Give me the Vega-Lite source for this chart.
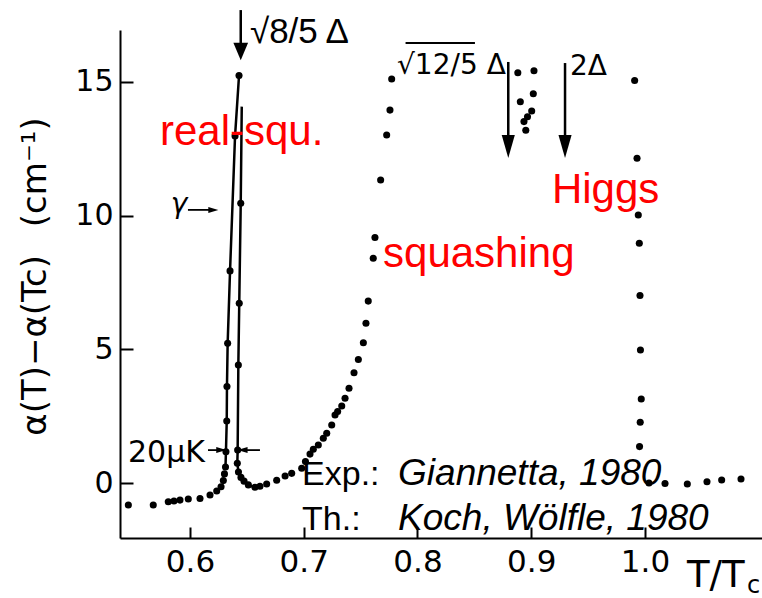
{
  "$schema": "https://vega.github.io/schema/vega-lite/v6.json",
  "width": 642,
  "height": 508,
  "autosize": {"type": "none"},
  "padding": {"left": 120, "top": 30, "right": 0, "bottom": 60},
  "background": "white",
  "config": {"view": {"stroke": null}},
  "datasets": {
    "dots": [
      {"T": 0.5458, "v": -0.82}, {"T": 0.5677, "v": -0.82}, {"T": 0.5809, "v": -0.70}, {"T": 0.5859, "v": -0.67},
      {"T": 0.5912, "v": -0.64}, {"T": 0.5985, "v": -0.60}, {"T": 0.6088, "v": -0.58}, {"T": 0.6176, "v": -0.45},
      {"T": 0.6235, "v": -0.30}, {"T": 0.6273, "v": -0.14}, {"T": 0.6293, "v": 0.09}, {"T": 0.6303, "v": 0.34},
      {"T": 0.6312, "v": 0.60}, {"T": 0.6316, "v": 1.17}, {"T": 0.6323, "v": 2.32}, {"T": 0.6325, "v": 3.61},
      {"T": 0.6331, "v": 5.22}, {"T": 0.6352, "v": 7.93}, {"T": 0.6396, "v": 12.97}, {"T": 0.6431, "v": 15.23},
      {"T": 0.6446, "v": 10.46}, {"T": 0.6433, "v": 6.72}, {"T": 0.6425, "v": 4.41}, {"T": 0.6419, "v": 1.23},
      {"T": 0.6416, "v": 0.74}, {"T": 0.6426, "v": 0.41}, {"T": 0.6448, "v": 0.21}, {"T": 0.6475, "v": 0.07},
      {"T": 0.6513, "v": -0.07}, {"T": 0.6571, "v": -0.16}, {"T": 0.6615, "v": -0.12}, {"T": 0.6674, "v": -0.04},
      {"T": 0.6762, "v": 0.10}, {"T": 0.6836, "v": 0.26}, {"T": 0.6894, "v": 0.36}, {"T": 0.6982, "v": 0.55},
      {"T": 0.7015, "v": 0.80}, {"T": 0.7055, "v": 1.08}, {"T": 0.7084, "v": 1.26}, {"T": 0.7128, "v": 1.42},
      {"T": 0.7172, "v": 1.67}, {"T": 0.7202, "v": 1.86}, {"T": 0.7246, "v": 2.17}, {"T": 0.7275, "v": 2.54},
      {"T": 0.7298, "v": 2.67}, {"T": 0.7334, "v": 2.88}, {"T": 0.7363, "v": 3.17}, {"T": 0.7398, "v": 3.54},
      {"T": 0.7442, "v": 4.12}, {"T": 0.7480, "v": 4.62}, {"T": 0.7524, "v": 5.24}, {"T": 0.7547, "v": 5.97},
      {"T": 0.7567, "v": 6.80}, {"T": 0.7611, "v": 8.40}, {"T": 0.7626, "v": 9.18}, {"T": 0.7676, "v": 11.33},
      {"T": 0.7729, "v": 13.01}, {"T": 0.7758, "v": 13.94}, {"T": 0.7773, "v": 15.10},
      {"T": 0.8882, "v": 15.34}, {"T": 0.9024, "v": 15.41}, {"T": 0.8904, "v": 14.25}, {"T": 0.9018, "v": 14.55},
      {"T": 0.9004, "v": 13.91}, {"T": 0.8967, "v": 13.69}, {"T": 0.8936, "v": 13.51}, {"T": 0.8952, "v": 13.19},
      {"T": 0.9909, "v": 15.05}, {"T": 0.9930, "v": 12.14}, {"T": 0.9941, "v": 10.02}, {"T": 0.9950, "v": 8.96},
      {"T": 0.9956, "v": 7.01}, {"T": 0.9960, "v": 4.97}, {"T": 0.9967, "v": 3.14}, {"T": 0.9958, "v": 2.27},
      {"T": 0.9952, "v": 1.36}, {"T": 1.0035, "v": 0.00}, {"T": 1.0176, "v": -0.02}, {"T": 1.0372, "v": -0.04},
      {"T": 1.0545, "v": 0.05}, {"T": 1.0674, "v": 0.11}, {"T": 1.0844, "v": 0.15}
    ],
    "lines": [
      {"b": "L", "o": 1, "T": 0.6312, "v": 0.60}, {"b": "L", "o": 2, "T": 0.6316, "v": 1.17},
      {"b": "L", "o": 3, "T": 0.6323, "v": 2.32}, {"b": "L", "o": 4, "T": 0.6325, "v": 3.61},
      {"b": "L", "o": 5, "T": 0.6331, "v": 5.22}, {"b": "L", "o": 6, "T": 0.6352, "v": 7.93},
      {"b": "L", "o": 7, "T": 0.6396, "v": 12.97}, {"b": "L", "o": 8, "T": 0.6431, "v": 15.23},
      {"b": "R", "o": 1, "T": 0.6455, "v": 14.07}, {"b": "R", "o": 2, "T": 0.6446, "v": 10.46},
      {"b": "R", "o": 3, "T": 0.6433, "v": 6.72}, {"b": "R", "o": 4, "T": 0.6425, "v": 4.41},
      {"b": "R", "o": 5, "T": 0.6419, "v": 1.23}, {"b": "R", "o": 6, "T": 0.6416, "v": 0.74},
      {"b": "R", "o": 7, "T": 0.6426, "v": 0.41}, {"b": "R", "o": 8, "T": 0.6448, "v": 0.21},
      {"b": "R", "o": 9, "T": 0.6475, "v": 0.07}, {"b": "R", "o": 10, "T": 0.6513, "v": -0.07},
      {"b": "R", "o": 11, "T": 0.6571, "v": -0.16}
    ],
    "vshafts": [
      {"T": 0.6446, "v": 17.68, "v2": 16.3},
      {"T": 0.8798, "v": 15.74, "v2": 12.8},
      {"T": 0.9297, "v": 15.70, "v2": 12.8}
    ],
    "bigheads": [
      {"T": 0.8798, "v": 12.58},
      {"T": 0.9297, "v": 12.58}
    ],
    "smallhead": [
      {"T": 0.6446, "v": 16.13}
    ],
    "hshafts": [
      {"T": 0.6158, "T2": 0.6316, "v": 1.23},
      {"T": 0.6413, "T2": 0.6615, "v": 1.23},
      {"T": 0.5982, "T2": 0.6200, "v": 10.21}
    ],
    "rheads": [
      {"T": 0.6275, "v": 1.23},
      {"T": 0.6205, "v": 10.21}
    ],
    "lheads": [
      {"T": 0.6462, "v": 1.23}
    ],
    "overline": [
      {"T": 0.7895, "T2": 0.8505, "v": 16.45}
    ],
    "red": [
      {"t": "real-squ.", "T": 0.5736, "v": 12.64},
      {"t": "squashing", "T": 0.7697, "v": 8.07},
      {"t": "Higgs", "T": 0.9182, "v": 10.47}
    ],
    "plain": [
      {"t": "Exp.:", "T": 0.6985, "v": -0.07},
      {"t": "Th.:", "T": 0.6985, "v": -1.76}
    ],
    "ital": [
      {"t": "Giannetta, 1980", "T": 0.7829, "v": -0.07},
      {"t": "Koch, Wölfle, 1980", "T": 0.7829, "v": -1.76}
    ],
    "sqrt85": [
      {"t": "√8/5 Δ", "T": 0.6527, "v": 16.45}
    ],
    "scan": [
      {"t": "√12/5 Δ", "T": 0.7820, "v": 15.29},
      {"t": "2Δ", "T": 0.9341, "v": 15.25}
    ],
    "mu": [
      {"t": "20μK", "T": 0.5455, "v": 0.80}
    ],
    "ttc": [
      {"t": "T/T", "T": 1.0369, "v": -3.89}
    ],
    "gamma": [
      {"t": "γ", "T": 0.5903, "v": 10.1}
    ],
    "sub": [
      {"t": "c", "T": 1.0897, "v": -4.11}
    ]
  },
  "layer": [
    {
      "data": {"name": "dots"},
      "mark": {"type": "point", "shape": "circle", "filled": true, "size": 50, "color": "black", "opacity": 1},
      "encoding": {
        "x": {
          "field": "T", "type": "quantitative",
          "scale": {"domain": [0.538462, 1.102857], "nice": false, "zero": false},
          "axis": {
            "values": [0.6, 0.7, 0.8, 0.9, 1.0], "format": ".1f", "grid": false, "title": null,
            "domainColor": "black", "domainWidth": 2, "tickColor": "black", "tickWidth": 2, "tickSize": -11,
            "labelFont": "DejaVu Sans", "labelFontSize": 31, "labelColor": "black", "labelPadding": 20
          }
        },
        "y": {
          "field": "v", "type": "quantitative",
          "scale": {"domain": [-2.056, 16.935], "nice": false, "zero": false},
          "axis": {
            "values": [0, 5, 10, 15], "grid": false,
            "title": "α(T)−α(Tc)\u2002  (cm⁻¹)",
            "titleFont": "DejaVu Sans", "titleFontSize": 34, "titleFontWeight": "normal", "titleColor": "black",
            "titleX": -68, "titleY": 246,
            "domainColor": "black", "domainWidth": 2, "tickColor": "black", "tickWidth": 2, "tickSize": -13,
            "labelFont": "DejaVu Sans", "labelFontSize": 30, "labelColor": "black", "labelPadding": 20
          }
        }
      }
    },
    {
      "data": {"name": "lines"},
      "mark": {"type": "line", "color": "black", "strokeWidth": 2.5},
      "encoding": {
        "x": {"field": "T", "type": "quantitative"},
        "y": {"field": "v", "type": "quantitative"},
        "detail": {"field": "b"},
        "order": {"field": "o", "type": "quantitative"}
      }
    },
    {
      "data": {"name": "vshafts"},
      "mark": {"type": "rule", "color": "black", "strokeWidth": 2.5},
      "encoding": {
        "x": {"field": "T", "type": "quantitative"},
        "y": {"field": "v", "type": "quantitative"},
        "y2": {"field": "v2"}
      }
    },
    {
      "data": {"name": "bigheads"},
      "mark": {"type": "point", "shape": "M-0.57,-1L0.57,-1L0,1Z", "filled": true, "size": 529, "color": "black", "opacity": 1},
      "encoding": {
        "x": {"field": "T", "type": "quantitative"},
        "y": {"field": "v", "type": "quantitative"}
      }
    },
    {
      "data": {"name": "smallhead"},
      "mark": {"type": "point", "shape": "M-0.85,-1L0.85,-1L0,1Z", "filled": true, "size": 300, "color": "black", "opacity": 1},
      "encoding": {
        "x": {"field": "T", "type": "quantitative"},
        "y": {"field": "v", "type": "quantitative"}
      }
    },
    {
      "data": {"name": "hshafts"},
      "mark": {"type": "rule", "color": "black", "strokeWidth": 1.8},
      "encoding": {
        "x": {"field": "T", "type": "quantitative"},
        "x2": {"field": "T2"},
        "y": {"field": "v", "type": "quantitative"}
      }
    },
    {
      "data": {"name": "overline"},
      "mark": {"type": "rule", "color": "black", "strokeWidth": 2},
      "encoding": {
        "x": {"field": "T", "type": "quantitative"},
        "x2": {"field": "T2"},
        "y": {"field": "v", "type": "quantitative"}
      }
    },
    {
      "data": {"name": "rheads"},
      "mark": {"type": "point", "shape": "M-1,-0.6L1,0L-1,0.6Z", "filled": true, "size": 100, "color": "black", "opacity": 1},
      "encoding": {
        "x": {"field": "T", "type": "quantitative"},
        "y": {"field": "v", "type": "quantitative"}
      }
    },
    {
      "data": {"name": "lheads"},
      "mark": {"type": "point", "shape": "M1,-0.6L-1,0L1,0.6Z", "filled": true, "size": 100, "color": "black", "opacity": 1},
      "encoding": {
        "x": {"field": "T", "type": "quantitative"},
        "y": {"field": "v", "type": "quantitative"}
      }
    },
    {
      "data": {"name": "red"},
      "mark": {"type": "text", "font": "Liberation Sans", "fontSize": 42, "color": "#ff0000", "align": "left", "baseline": "alphabetic"},
      "encoding": {
        "x": {"field": "T", "type": "quantitative"},
        "y": {"field": "v", "type": "quantitative"},
        "text": {"field": "t"}
      }
    },
    {
      "data": {"name": "plain"},
      "mark": {"type": "text", "font": "Liberation Sans", "fontSize": 34, "color": "black", "align": "left", "baseline": "alphabetic"},
      "encoding": {
        "x": {"field": "T", "type": "quantitative"},
        "y": {"field": "v", "type": "quantitative"},
        "text": {"field": "t"}
      }
    },
    {
      "data": {"name": "ital"},
      "mark": {"type": "text", "font": "Liberation Sans", "fontStyle": "italic", "fontSize": 37, "color": "black", "align": "left", "baseline": "alphabetic"},
      "encoding": {
        "x": {"field": "T", "type": "quantitative"},
        "y": {"field": "v", "type": "quantitative"},
        "text": {"field": "t"}
      }
    },
    {
      "data": {"name": "sqrt85"},
      "mark": {"type": "text", "font": "Liberation Sans", "fontSize": 35, "color": "black", "align": "left", "baseline": "alphabetic"},
      "encoding": {
        "x": {"field": "T", "type": "quantitative"},
        "y": {"field": "v", "type": "quantitative"},
        "text": {"field": "t"}
      }
    },
    {
      "data": {"name": "scan"},
      "mark": {"type": "text", "font": "DejaVu Sans", "fontSize": 28, "color": "black", "align": "left", "baseline": "alphabetic"},
      "encoding": {
        "x": {"field": "T", "type": "quantitative"},
        "y": {"field": "v", "type": "quantitative"},
        "text": {"field": "t"}
      }
    },
    {
      "data": {"name": "mu"},
      "mark": {"type": "text", "font": "DejaVu Sans", "fontSize": 30, "color": "black", "align": "left", "baseline": "alphabetic"},
      "encoding": {
        "x": {"field": "T", "type": "quantitative"},
        "y": {"field": "v", "type": "quantitative"},
        "text": {"field": "t"}
      }
    },
    {
      "data": {"name": "ttc"},
      "mark": {"type": "text", "font": "DejaVu Sans", "fontSize": 37, "color": "black", "align": "left", "baseline": "alphabetic"},
      "encoding": {
        "x": {"field": "T", "type": "quantitative"},
        "y": {"field": "v", "type": "quantitative"},
        "text": {"field": "t"}
      }
    },
    {
      "data": {"name": "gamma"},
      "mark": {"type": "text", "font": "DejaVu Sans", "fontStyle": "italic", "fontSize": 28, "color": "black", "align": "center", "baseline": "alphabetic"},
      "encoding": {
        "x": {"field": "T", "type": "quantitative"},
        "y": {"field": "v", "type": "quantitative"},
        "text": {"field": "t"}
      }
    },
    {
      "data": {"name": "sub"},
      "mark": {"type": "text", "font": "DejaVu Sans", "fontSize": 24, "color": "black", "align": "left", "baseline": "alphabetic"},
      "encoding": {
        "x": {"field": "T", "type": "quantitative"},
        "y": {"field": "v", "type": "quantitative"},
        "text": {"field": "t"}
      }
    }
  ]
}
